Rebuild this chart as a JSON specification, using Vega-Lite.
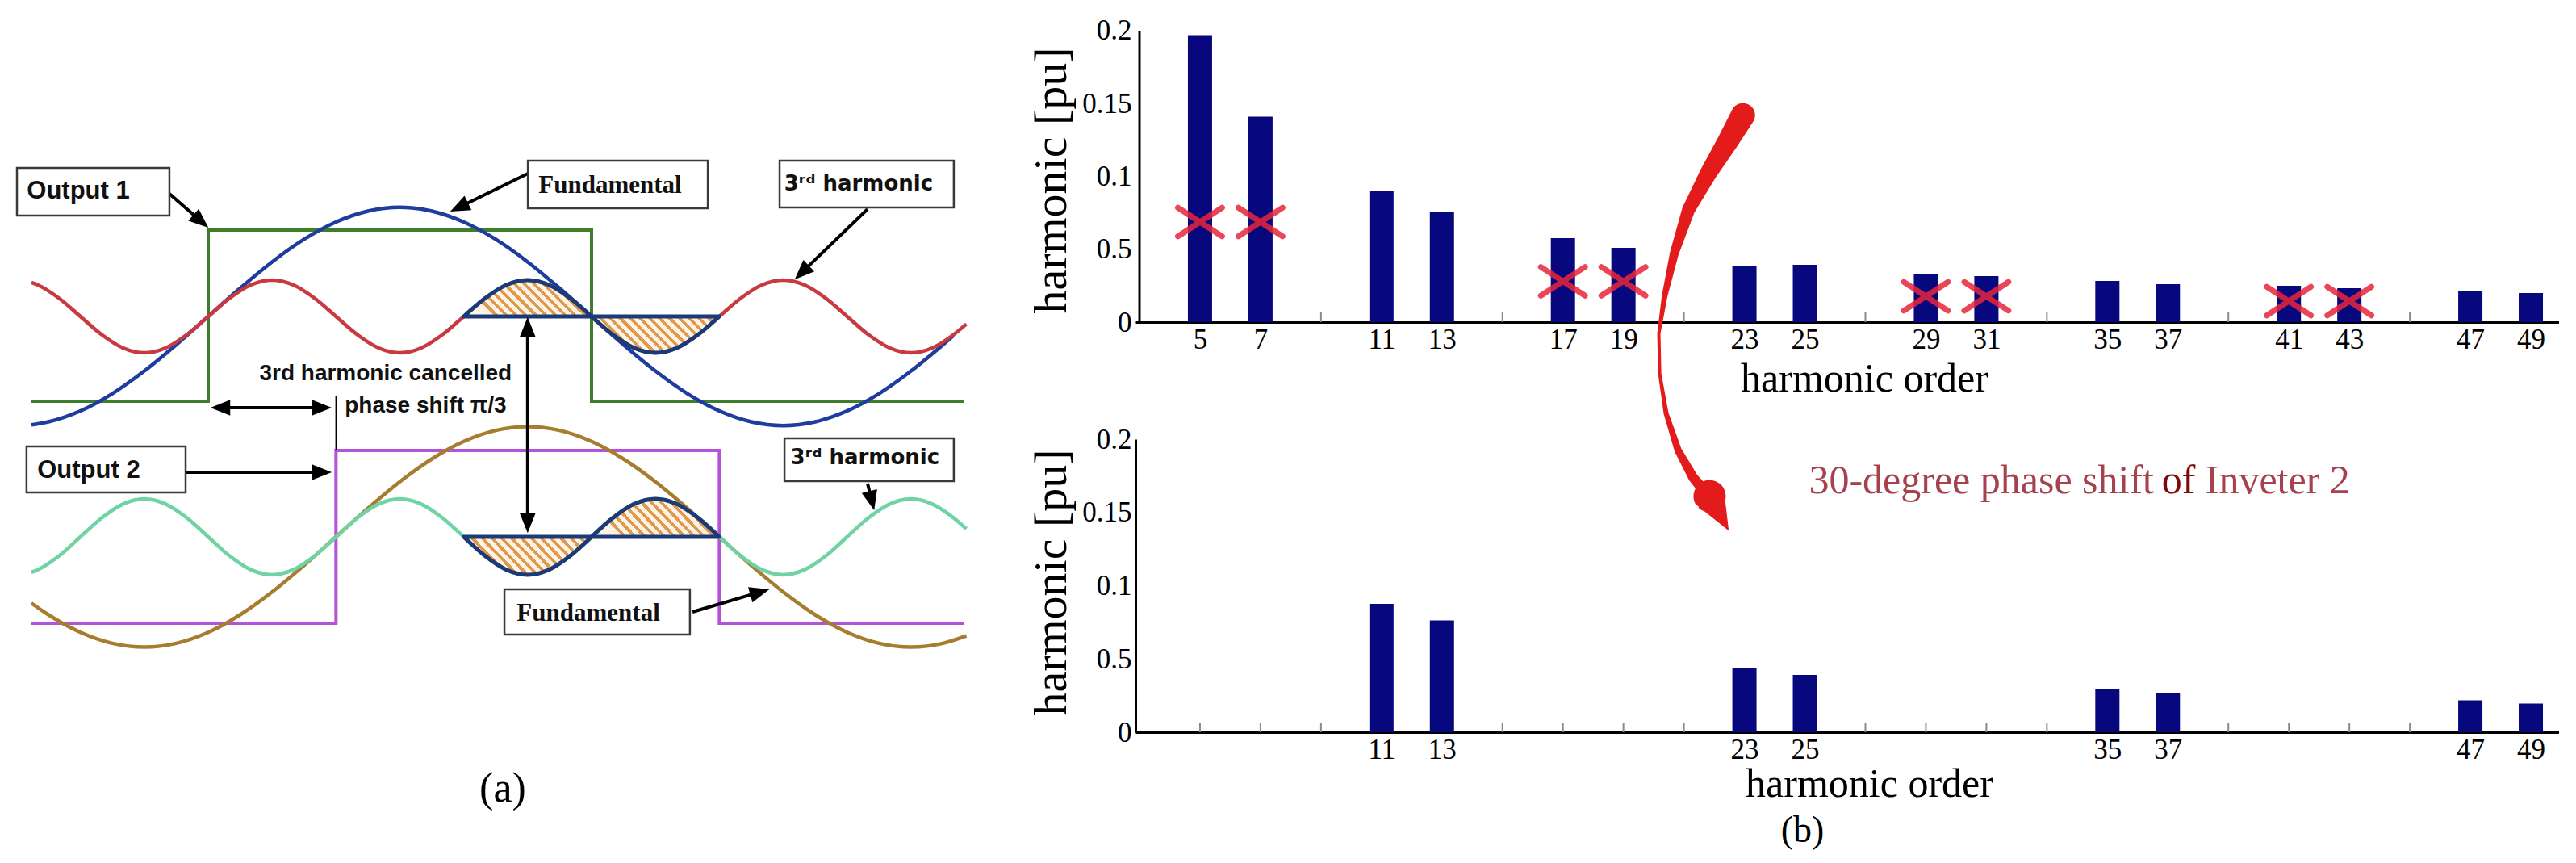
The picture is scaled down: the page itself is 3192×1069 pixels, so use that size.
{
"$schema": "https://vega.github.io/schema/vega-lite/v6.json",
"background": "white",
"padding": 0,
"bounds": "flush",
"spacing": 0,
"config": {
  "view": {"stroke": null},
  "axis": {"grid": false, "domainColor": "#000", "domainWidth": 3, "labelColor": "#000", "titleColor": "#000", "labelFont": "Liberation Serif", "titleFont": "Liberation Serif", "titleFontWeight": "normal", "ticks": false, "labelFlush": false, "labelOverlap": false}
},
"datasets": {
  "squares": [
    {"c":"out1","t":-83,"y":4.231,"o":0},{"c":"out1","t":0,"y":4.231,"o":1},{"c":"out1","t":0,"y":5.784,"o":2},{"c":"out1","t":180,"y":5.784,"o":3},{"c":"out1","t":180,"y":4.231,"o":4},{"c":"out1","t":355,"y":4.231,"o":5},
    {"c":"out2","t":-83,"y":2.216,"o":0},{"c":"out2","t":60,"y":2.216,"o":1},{"c":"out2","t":60,"y":3.784,"o":2},{"c":"out2","t":240,"y":3.784,"o":3},{"c":"out2","t":240,"y":2.216,"o":4},{"c":"out2","t":355,"y":2.216,"o":5}
  ],
  "waves": [
    {"c":"f1","t":-83,"y":4.017},{"c":"f1","t":-75,"y":4.044},{"c":"f1","t":-60,"y":4.143},{"c":"f1","t":-45,"y":4.3},{"c":"f1","t":-30,"y":4.505},{"c":"f1","t":-15,"y":4.744},{"c":"f1","t":0,"y":5},{"c":"f1","t":15,"y":5.256},{"c":"f1","t":30,"y":5.495},{"c":"f1","t":45,"y":5.7},{"c":"f1","t":60,"y":5.857},{"c":"f1","t":75,"y":5.956},{"c":"f1","t":90,"y":5.99},{"c":"f1","t":105,"y":5.956},{"c":"f1","t":120,"y":5.857},{"c":"f1","t":135,"y":5.7},{"c":"f1","t":150,"y":5.495},{"c":"f1","t":165,"y":5.256},{"c":"f1","t":180,"y":5},{"c":"f1","t":195,"y":4.744},{"c":"f1","t":210,"y":4.505},{"c":"f1","t":225,"y":4.3},{"c":"f1","t":240,"y":4.143},{"c":"f1","t":255,"y":4.044},{"c":"f1","t":270,"y":4.01},{"c":"f1","t":285,"y":4.044},{"c":"f1","t":300,"y":4.143},{"c":"f1","t":315,"y":4.3},{"c":"f1","t":330,"y":4.505},{"c":"f1","t":345,"y":4.744},{"c":"f1","t":350,"y":4.828},
    {"c":"f2","t":-83,"y":2.398},{"c":"f2","t":-75,"y":2.293},{"c":"f2","t":-60,"y":2.134},{"c":"f2","t":-45,"y":2.034},{"c":"f2","t":-30,"y":2.0},{"c":"f2","t":-15,"y":2.034},{"c":"f2","t":0,"y":2.134},{"c":"f2","t":15,"y":2.293},{"c":"f2","t":30,"y":2.5},{"c":"f2","t":45,"y":2.741},{"c":"f2","t":60,"y":3},{"c":"f2","t":75,"y":3.259},{"c":"f2","t":90,"y":3.5},{"c":"f2","t":105,"y":3.707},{"c":"f2","t":120,"y":3.866},{"c":"f2","t":135,"y":3.966},{"c":"f2","t":150,"y":4.0},{"c":"f2","t":165,"y":3.966},{"c":"f2","t":180,"y":3.866},{"c":"f2","t":195,"y":3.707},{"c":"f2","t":210,"y":3.5},{"c":"f2","t":225,"y":3.259},{"c":"f2","t":240,"y":3.0},{"c":"f2","t":255,"y":2.741},{"c":"f2","t":270,"y":2.5},{"c":"f2","t":285,"y":2.293},{"c":"f2","t":300,"y":2.134},{"c":"f2","t":315,"y":2.034},{"c":"f2","t":330,"y":2.0},{"c":"f2","t":345,"y":2.034},{"c":"f2","t":356,"y":2.101},
    {"c":"h1","t":-83,"y":5.308},{"c":"h1","t":-80,"y":5.286},{"c":"h1","t":-70,"y":5.165},{"c":"h1","t":-60,"y":5},{"c":"h1","t":-50,"y":4.835},{"c":"h1","t":-40,"y":4.714},{"c":"h1","t":-30,"y":4.67},{"c":"h1","t":-20,"y":4.714},{"c":"h1","t":-10,"y":4.835},{"c":"h1","t":0,"y":5},{"c":"h1","t":10,"y":5.165},{"c":"h1","t":20,"y":5.286},{"c":"h1","t":30,"y":5.33},{"c":"h1","t":40,"y":5.286},{"c":"h1","t":50,"y":5.165},{"c":"h1","t":60,"y":5},{"c":"h1","t":70,"y":4.835},{"c":"h1","t":80,"y":4.714},{"c":"h1","t":90,"y":4.67},{"c":"h1","t":100,"y":4.714},{"c":"h1","t":110,"y":4.835},{"c":"h1","t":120,"y":5},{"c":"h1","t":130,"y":5.165},{"c":"h1","t":140,"y":5.286},{"c":"h1","t":150,"y":5.33},{"c":"h1","t":160,"y":5.286},{"c":"h1","t":170,"y":5.165},{"c":"h1","t":180,"y":5},{"c":"h1","t":190,"y":4.835},{"c":"h1","t":200,"y":4.714},{"c":"h1","t":210,"y":4.67},{"c":"h1","t":220,"y":4.714},{"c":"h1","t":230,"y":4.835},{"c":"h1","t":240,"y":5},{"c":"h1","t":250,"y":5.165},{"c":"h1","t":260,"y":5.286},{"c":"h1","t":270,"y":5.33},{"c":"h1","t":280,"y":5.286},{"c":"h1","t":290,"y":5.165},{"c":"h1","t":300,"y":5},{"c":"h1","t":310,"y":4.835},{"c":"h1","t":320,"y":4.714},{"c":"h1","t":330,"y":4.67},{"c":"h1","t":340,"y":4.714},{"c":"h1","t":350,"y":4.835},{"c":"h1","t":356,"y":4.931},
    {"c":"h2","t":-83,"y":2.679},{"c":"h2","t":-80,"y":2.702},{"c":"h2","t":-70,"y":2.828},{"c":"h2","t":-60,"y":3},{"c":"h2","t":-50,"y":3.172},{"c":"h2","t":-40,"y":3.298},{"c":"h2","t":-30,"y":3.344},{"c":"h2","t":-20,"y":3.298},{"c":"h2","t":-10,"y":3.172},{"c":"h2","t":0,"y":3},{"c":"h2","t":10,"y":2.828},{"c":"h2","t":20,"y":2.702},{"c":"h2","t":30,"y":2.656},{"c":"h2","t":40,"y":2.702},{"c":"h2","t":50,"y":2.828},{"c":"h2","t":60,"y":3},{"c":"h2","t":70,"y":3.172},{"c":"h2","t":80,"y":3.298},{"c":"h2","t":90,"y":3.344},{"c":"h2","t":100,"y":3.298},{"c":"h2","t":110,"y":3.172},{"c":"h2","t":120,"y":3},{"c":"h2","t":130,"y":2.828},{"c":"h2","t":140,"y":2.702},{"c":"h2","t":150,"y":2.656},{"c":"h2","t":160,"y":2.702},{"c":"h2","t":170,"y":2.828},{"c":"h2","t":180,"y":3},{"c":"h2","t":190,"y":3.172},{"c":"h2","t":200,"y":3.298},{"c":"h2","t":210,"y":3.344},{"c":"h2","t":220,"y":3.298},{"c":"h2","t":230,"y":3.172},{"c":"h2","t":240,"y":3},{"c":"h2","t":250,"y":2.828},{"c":"h2","t":260,"y":2.702},{"c":"h2","t":270,"y":2.656},{"c":"h2","t":280,"y":2.702},{"c":"h2","t":290,"y":2.828},{"c":"h2","t":300,"y":3},{"c":"h2","t":310,"y":3.172},{"c":"h2","t":320,"y":3.298},{"c":"h2","t":330,"y":3.344},{"c":"h2","t":340,"y":3.298},{"c":"h2","t":350,"y":3.172},{"c":"h2","t":356,"y":3.072}
  ],
  "lobes": [
    {"g":"L1","t":120,"y":5,"b":5},{"g":"L1","t":130,"y":5.165,"b":5},{"g":"L1","t":140,"y":5.286,"b":5},{"g":"L1","t":150,"y":5.33,"b":5},{"g":"L1","t":160,"y":5.286,"b":5},{"g":"L1","t":170,"y":5.165,"b":5},{"g":"L1","t":180,"y":5,"b":5},
    {"g":"L2","t":180,"y":5,"b":5},{"g":"L2","t":190,"y":4.835,"b":5},{"g":"L2","t":200,"y":4.714,"b":5},{"g":"L2","t":210,"y":4.67,"b":5},{"g":"L2","t":220,"y":4.714,"b":5},{"g":"L2","t":230,"y":4.835,"b":5},{"g":"L2","t":240,"y":5,"b":5},
    {"g":"L3","t":120,"y":3,"b":3},{"g":"L3","t":130,"y":2.828,"b":3},{"g":"L3","t":140,"y":2.702,"b":3},{"g":"L3","t":150,"y":2.656,"b":3},{"g":"L3","t":160,"y":2.702,"b":3},{"g":"L3","t":170,"y":2.828,"b":3},{"g":"L3","t":180,"y":3,"b":3},
    {"g":"L4","t":180,"y":3,"b":3},{"g":"L4","t":190,"y":3.172,"b":3},{"g":"L4","t":200,"y":3.298,"b":3},{"g":"L4","t":210,"y":3.344,"b":3},{"g":"L4","t":220,"y":3.298,"b":3},{"g":"L4","t":230,"y":3.172,"b":3},{"g":"L4","t":240,"y":3,"b":3}
  ],
  "shafts": [
    {"t":-18.2,"y":6.114,"t2":-3.4,"y2":5.864},
    {"t":150.1,"y":6.297,"t2":117.8,"y2":5.991},
    {"t":309.6,"y":5.974,"t2":278.7,"y2":5.398},
    {"t":-10.6,"y":3.586,"t2":53.4,"y2":3.586},
    {"t":227.4,"y":2.319,"t2":259.0,"y2":2.499},
    {"t":309.6,"y":3.484,"t2":311.6,"y2":3.327},
    {"t":3,"y":4.172,"t2":56,"y2":4.172},
    {"t":150,"y":4.95,"t2":150,"y2":3.08}
  ],
  "thin": [{"t":60,"y":4.282,"t2":60,"y2":3.791}],
  "heads": [
    {"t":-3.4,"y":5.864,"a":131},{"t":117.8,"y":5.991,"a":244},{"t":278.7,"y":5.398,"a":226},{"t":53.4,"y":3.586,"a":90},{"t":259.0,"y":2.499,"a":74},{"t":311.6,"y":3.327,"a":166},{"t":5.7,"y":4.172,"a":270},{"t":53.4,"y":4.172,"a":90},{"t":150,"y":4.905,"a":0},{"t":150,"y":3.125,"a":180}
  ],
  "boxes": [
    {"t":-89.8,"t2":-18.2,"y":6.348,"y2":5.916},{"t":150.1,"t2":234.6,"y":6.414,"y2":5.982},{"t":268.3,"t2":350.1,"y":6.414,"y2":5.989},{"t":-85.3,"t2":-10.6,"y":3.821,"y2":3.403},{"t":139.1,"t2":226.2,"y":2.524,"y2":2.114},{"t":270.6,"t2":350.1,"y":3.894,"y2":3.506}
  ],
  "alabels": [
    {"t":-61,"y":6.136,"txt":"Output 1","f":"o"},
    {"t":-56.1,"y":3.601,"txt":"Output 2","f":"o"},
    {"t":83.3,"y":4.48,"txt":"3rd harmonic cancelled","f":"n"},
    {"t":102.1,"y":4.187,"txt":"phase shift π/3","f":"n"},
    {"t":188.7,"y":6.187,"txt":"Fundamental","f":"s"},
    {"t":178.5,"y":2.304,"txt":"Fundamental","f":"s"},
    {"t":305.4,"y":6.2,"txt":"3ʳᵈ harmonic","f":"b"},
    {"t":308.4,"y":3.718,"txt":"3ʳᵈ harmonic","f":"b"},
    {"t":138.3,"y":0.714,"txt":"(a)","f":"r"}
  ],
  "topbars": [{"h":5,"v":0.197},{"h":7,"v":0.141},{"h":11,"v":0.0897},{"h":13,"v":0.0753},{"h":17,"v":0.0576},{"h":19,"v":0.051},{"h":23,"v":0.0388},{"h":25,"v":0.0393},{"h":29,"v":0.0332},{"h":31,"v":0.0316},{"h":35,"v":0.0283},{"h":37,"v":0.026},{"h":41,"v":0.0249},{"h":43,"v":0.0233},{"h":47,"v":0.021},{"h":49,"v":0.02}],
  "botbars": [{"h":11,"v":0.0876},{"h":13,"v":0.0763},{"h":23,"v":0.0441},{"h":25,"v":0.0391},{"h":35,"v":0.0295},{"h":37,"v":0.0267},{"h":47,"v":0.0217},{"h":49,"v":0.0195}],
  "xmarks": [{"h":5,"v":0.0687},{"h":7,"v":0.0687},{"h":17,"v":0.028},{"h":19,"v":0.028},{"h":29,"v":0.0177},{"h":31,"v":0.0177},{"h":41,"v":0.0144},{"h":43,"v":0.0144}],
  "tticks": [{"h":9,"v":0},{"h":15,"v":0},{"h":21,"v":0},{"h":27,"v":0},{"h":33,"v":0},{"h":39,"v":0},{"h":45,"v":0}],
  "bticks": [{"h":5,"v":0},{"h":7,"v":0},{"h":9,"v":0},{"h":15,"v":0},{"h":17,"v":0},{"h":19,"v":0},{"h":21,"v":0},{"h":27,"v":0},{"h":29,"v":0},{"h":31,"v":0},{"h":33,"v":0},{"h":39,"v":0},{"h":41,"v":0},{"h":43,"v":0},{"h":45,"v":0}],
  "redarrow": [
    {"h":22.95,"v":0.1420,"k":30,"o":0},{"h":22.45,"v":0.1240,"k":26,"o":1},{"h":21.80,"v":0.1019,"k":21,"o":2},{"h":21.15,"v":0.077,"k":16,"o":3},{"h":20.68,"v":0.0471,"k":11,"o":4},{"h":20.36,"v":0.0177,"k":7,"o":5},{"h":20.17,"v":-0.0078,"k":4,"o":6},{"h":20.2,"v":-0.0355,"k":4,"o":7},{"h":20.41,"v":-0.0626,"k":6,"o":8},{"h":20.81,"v":-0.0881,"k":9,"o":9},{"h":21.31,"v":-0.1069,"k":12,"o":10},{"h":21.75,"v":-0.1175,"k":14,"o":11},{"h":21.85,"v":-0.1195,"k":40,"o":12},{"h":22.45,"v":-0.1420,"k":2,"o":13}
  ],
  "shifttext": [{"h":25.13,"v":-0.1175,"txt":"30-degree phase shift","p":"a"},{"h":36.8,"v":-0.1175,"txt":"of","p":"b"},{"h":38.24,"v":-0.1175,"txt":"Inveter 2","p":"a"}],
  "blabel": [{"h":24.92,"v":-0.0672,"txt":"(b)"}]
},
"hconcat": [
  {
    "width": 1407, "height": 1069,
    "encoding": {
      "x": {"field":"t","type":"quantitative","scale":{"domain":[-97.76,435.4],"nice":false,"zero":false},"axis":null},
      "y": {"field":"y","type":"quantitative","scale":{"domain":[0.0403,7.8718],"nice":false,"zero":false},"axis":null}
    },
    "layer": [
      {"data":{"name":"squares"},"mark":{"type":"line","strokeWidth":4,"interpolate":"linear"},
       "encoding":{"color":{"field":"c","type":"nominal","scale":{"domain":["out1","out2","f1","h1","f2","h2"],"range":["#3e7d2a","#b453d8","#1f3d9e","#c83a40","#a67c2e","#6fd3a3"]},"legend":null},"order":{"field":"o","type":"quantitative"}}},
      {"data":{"name":"waves"},"mark":{"type":"line","strokeWidth":4.5,"interpolate":"monotone"},
       "encoding":{"color":{"field":"c","type":"nominal","scale":{"domain":["out1","out2","f1","h1","f2","h2"],"range":["#3e7d2a","#b453d8","#1f3d9e","#c83a40","#a67c2e","#6fd3a3"]},"legend":null}}},
      {"data":{"name":"lobes"},"mark":{"type":"area","interpolate":"monotone","stroke":"#1b3a78","strokeWidth":5,"strokeJoin":"round",
        "fill":{"gradient":"linear","x1":0,"y1":0.285,"x2":1,"y2":0,"stops":[
          {"offset":0,"color":"#fff3e3"},{"offset":0.041,"color":"#fff3e3"},{"offset":0.041,"color":"#e09a50"},{"offset":0.0714,"color":"#e09a50"},
          {"offset":0.0714,"color":"#fff3e3"},{"offset":0.1124,"color":"#fff3e3"},{"offset":0.1124,"color":"#e09a50"},{"offset":0.1429,"color":"#e09a50"},
          {"offset":0.1429,"color":"#fff3e3"},{"offset":0.1839,"color":"#fff3e3"},{"offset":0.1839,"color":"#e09a50"},{"offset":0.2143,"color":"#e09a50"},
          {"offset":0.2143,"color":"#fff3e3"},{"offset":0.2553,"color":"#fff3e3"},{"offset":0.2553,"color":"#e09a50"},{"offset":0.2857,"color":"#e09a50"},
          {"offset":0.2857,"color":"#fff3e3"},{"offset":0.3267,"color":"#fff3e3"},{"offset":0.3267,"color":"#e09a50"},{"offset":0.3571,"color":"#e09a50"},
          {"offset":0.3571,"color":"#fff3e3"},{"offset":0.3981,"color":"#fff3e3"},{"offset":0.3981,"color":"#e09a50"},{"offset":0.4286,"color":"#e09a50"},
          {"offset":0.4286,"color":"#fff3e3"},{"offset":0.4696,"color":"#fff3e3"},{"offset":0.4696,"color":"#e09a50"},{"offset":0.5,"color":"#e09a50"},
          {"offset":0.5,"color":"#fff3e3"},{"offset":0.541,"color":"#fff3e3"},{"offset":0.541,"color":"#e09a50"},{"offset":0.5714,"color":"#e09a50"},
          {"offset":0.5714,"color":"#fff3e3"},{"offset":0.6124,"color":"#fff3e3"},{"offset":0.6124,"color":"#e09a50"},{"offset":0.6429,"color":"#e09a50"},
          {"offset":0.6429,"color":"#fff3e3"},{"offset":0.6839,"color":"#fff3e3"},{"offset":0.6839,"color":"#e09a50"},{"offset":0.7143,"color":"#e09a50"},
          {"offset":0.7143,"color":"#fff3e3"},{"offset":0.7553,"color":"#fff3e3"},{"offset":0.7553,"color":"#e09a50"},{"offset":0.7857,"color":"#e09a50"},
          {"offset":0.7857,"color":"#fff3e3"},{"offset":0.8267,"color":"#fff3e3"},{"offset":0.8267,"color":"#e09a50"},{"offset":0.8571,"color":"#e09a50"},
          {"offset":0.8571,"color":"#fff3e3"},{"offset":0.8981,"color":"#fff3e3"},{"offset":0.8981,"color":"#e09a50"},{"offset":0.9286,"color":"#e09a50"},
          {"offset":0.9286,"color":"#fff3e3"},{"offset":0.9696,"color":"#fff3e3"},{"offset":0.9696,"color":"#e09a50"},{"offset":1,"color":"#e09a50"}]}},
       "encoding":{"y2":{"field":"b"},"detail":{"field":"g","type":"nominal"}}},
      {"data":{"name":"shafts"},"mark":{"type":"rule","color":"#000","strokeWidth":4},
       "encoding":{"x2":{"field":"t2"},"y2":{"field":"y2"}}},
      {"data":{"name":"thin"},"mark":{"type":"rule","color":"#000","strokeWidth":1.5},
       "encoding":{"x2":{"field":"t2"},"y2":{"field":"y2"}}},
      {"data":{"name":"heads"},"mark":{"type":"point","shape":"M0,-1L0.8,1L-0.8,1Z","filled":true,"color":"#000","opacity":1,"size":600},
       "encoding":{"angle":{"field":"a","type":"quantitative","scale":null}}},
      {"data":{"name":"boxes"},"mark":{"type":"rect","fill":"#fff","stroke":"#3a3a3a","strokeWidth":2.5},
       "encoding":{"x2":{"field":"t2"},"y2":{"field":"y2"}}},
      {"data":{"name":"alabels"},"transform":[{"filter":"datum.f == 'o'"}],
       "mark":{"type":"text","font":"Liberation Sans","fontWeight":"bold","fontSize":31,"color":"#111","baseline":"middle","align":"center"},
       "encoding":{"text":{"field":"txt"}}},
      {"data":{"name":"alabels"},"transform":[{"filter":"datum.f == 'n'"}],
       "mark":{"type":"text","font":"Liberation Sans","fontWeight":"bold","fontSize":28,"color":"#111","baseline":"middle","align":"center"},
       "encoding":{"text":{"field":"txt"}}},
      {"data":{"name":"alabels"},"transform":[{"filter":"datum.f == 's'"}],
       "mark":{"type":"text","font":"Liberation Serif","fontWeight":"bold","fontSize":31,"color":"#111","baseline":"middle","align":"center"},
       "encoding":{"text":{"field":"txt"}}},
      {"data":{"name":"alabels"},"transform":[{"filter":"datum.f == 'b'"}],
       "mark":{"type":"text","font":"DejaVu Sans","fontWeight":"bold","fontSize":26,"color":"#111","baseline":"middle","align":"center"},
       "encoding":{"text":{"field":"txt"}}},
      {"data":{"name":"alabels"},"transform":[{"filter":"datum.f == 'r'"}],
       "mark":{"type":"text","font":"Liberation Serif","fontSize":52,"color":"#000","baseline":"middle","align":"center"},
       "encoding":{"text":{"field":"txt"}}}
    ]
  },
  {
    "vconcat": [
      {
        "width": 1764, "height": 399,
        "encoding": {
          "x": {"field":"h","type":"quantitative","scale":{"domain":[3,49.8],"nice":false,"zero":false},
                "axis":{"values":[5,7,11,13,17,19,23,25,29,31,35,37,41,43,47,49],"labelFontSize":35,"labelPadding":4,"title":"harmonic order","titleFontSize":50,"titlePadding":6,"titleX":903}},
          "y": {"field":"v","type":"quantitative","scale":{"domain":[0,0.22105],"nice":false,"zero":false},
                "axis":{"values":[0,0.05,0.1,0.15,0.2],"domain":false,"labelExpr":"datum.value == 0 ? '0' : datum.value == 0.05 ? '0.5' : datum.value == 0.1 ? '0.1' : datum.value == 0.15 ? '0.15' : '0.2'","labelFontSize":35,"labelPadding":5,"title":"harmonic [pu]","titleFontSize":58,"titlePadding":8,"titleY":223}}
        },
        "layer": [
          {"data":{"name":"tticks"},"mark":{"type":"rule","color":"#8a8a8a","strokeWidth":2},"encoding":{"y2":{"datum":0.0066}}},
          {"data":{"values":[{"h":3,"v":0}]},"mark":{"type":"rule","color":"#000","strokeWidth":3},"encoding":{"y2":{"datum":0.2}}},
          {"data":{"name":"topbars"},"mark":{"type":"bar","size":30,"color":"#08087e"}},
          {"data":{"name":"xmarks"},"mark":{"type":"point","shape":"M-1,-0.65L1,0.65M-1,0.65L1,-0.65","filled":false,"size":3000,"stroke":"#e8263a","strokeWidth":7,"opacity":0.85,"strokeCap":"round"}},
          {"data":{"name":"redarrow"},"mark":{"type":"trail","color":"#e31b1b"},
           "encoding":{"size":{"field":"k","type":"quantitative","scale":{"domain":[0,44],"range":[0,44]},"legend":null},"order":{"field":"o","type":"quantitative"}}},
          {"data":{"name":"shifttext"},"transform":[{"filter":"datum.p == 'a'"}],
           "mark":{"type":"text","font":"Liberation Serif","fontSize":50,"color":"#a5424d","align":"left","baseline":"alphabetic"},
           "encoding":{"text":{"field":"txt"}}},
          {"data":{"name":"shifttext"},"transform":[{"filter":"datum.p == 'b'"}],
           "mark":{"type":"text","font":"Liberation Serif","fontSize":50,"color":"#7d0a0a","align":"left","baseline":"alphabetic"},
           "encoding":{"text":{"field":"txt"}}}
        ]
      },
      {
        "width": 1764, "height": 363,
        "encoding": {
          "x": {"field":"h","type":"quantitative","scale":{"domain":[3,49.8],"nice":false,"zero":false},
                "axis":{"values":[11,13,23,25,35,37,47,49],"labelFontSize":35,"labelPadding":4,"title":"harmonic order","titleFontSize":50,"titlePadding":0,"titleX":909}},
          "y": {"field":"v","type":"quantitative","scale":{"domain":[0,0.2],"nice":false,"zero":false},
                "axis":{"values":[0,0.05,0.1,0.15,0.2],"labelExpr":"datum.value == 0 ? '0' : datum.value == 0.05 ? '0.5' : datum.value == 0.1 ? '0.1' : datum.value == 0.15 ? '0.15' : '0.2'","labelFontSize":35,"labelPadding":5,"title":"harmonic [pu]","titleFontSize":58,"titlePadding":8,"titleY":177}}
        },
        "layer": [
          {"data":{"name":"bticks"},"mark":{"type":"rule","color":"#8a8a8a","strokeWidth":2},"encoding":{"y2":{"datum":0.0066}}},
          {"data":{"name":"botbars"},"mark":{"type":"bar","size":30,"color":"#08087e"}},
          {"data":{"name":"blabel"},"mark":{"type":"text","font":"Liberation Serif","fontSize":46,"color":"#000","align":"center","baseline":"middle"},
           "encoding":{"text":{"field":"txt"}}}
        ]
      }
    ],
    "spacing": 145,
    "bounds": "flush"
  }
]
}
